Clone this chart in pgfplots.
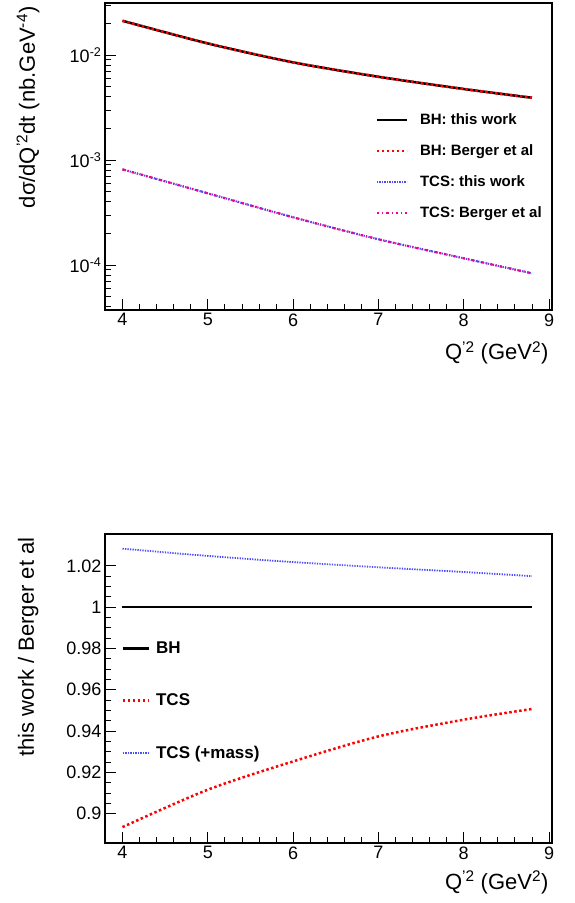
\documentclass[border=0pt]{standalone}
\usepackage{pgfplots}
\pgfplotsset{compat=1.18}
\usepackage{fontspec}
\setmainfont{Liberation Sans}
\definecolor{rootblue}{rgb}{0.3,0.3,1}

\pgfplotstableread{
x y
4.0 0.0212
5.0 0.0129
6.0 0.00852
7.0 0.00621
8.0 0.00475
8.8 0.00392
}\bhdata
\pgfplotstableread{
x y
4.0 8.15e-4
5.0 4.82e-4
6.0 2.85e-4
7.0 1.76e-4
8.0 1.16e-4
8.8 8.34e-5
}\tcsdata
\pgfplotstableread{
x y
4.0 1.0
8.8 1.0
}\bhratio
\pgfplotstableread{
x y
4.0 0.8935
5.0 0.9116
6.0 0.9253
7.0 0.9374
8.0 0.9455
8.8 0.9507
}\tcsratio
\pgfplotstableread{
x y
4.0 1.0283
5.0 1.0248
6.0 1.0218
7.0 1.0193
8.0 1.0170
8.8 1.0150
}\massratio

\begin{document}
\begin{tikzpicture}[x=1pt,y=1pt]
\path[use as bounding box] (0,0) rectangle (574,-903);
\pgfplotsset{
  common/.style={
    scale only axis, width=447pt,
    xmin=3.795, xmax=9.035,
    xtick={4,5,6,7,8,9}, minor x tick num=4,
    xtick pos=left, ytick pos=left,
    tick align=inside,
    major tick length=11pt, minor tick length=6pt,
    /pgf/number format/assume math mode=true,
    tick label style={font=\fontsize{18}{21}\selectfont},
    label style={font=\fontsize{22}{26}\selectfont},
    axis line style={line width=1.2pt},
    every tick/.style={black, line width=0.8pt},
    legend image code/.code={\draw[##1] (0pt,0pt) -- (30pt,0pt);},
    legend cell align=left,
    xlabel={Q\textsuperscript{'2} (GeV\textsuperscript{2})},
    xlabel style={at={(axis description cs:1,-0.14)}, anchor=east},
  }
}
\begin{axis}[common,
  at={(105pt,-310pt)}, anchor=south west,
  height=307pt,
  ymode=log, ymin=3.73e-5, ymax=0.0313,
  ytick={1e-4,1e-3,1e-2},
  yticklabels={10\textsuperscript{-4},10\textsuperscript{-3},10\textsuperscript{-2}},
  minor ytick={4e-5,5e-5,6e-5,7e-5,8e-5,9e-5,2e-4,3e-4,4e-4,5e-4,6e-4,7e-4,8e-4,9e-4,2e-3,3e-3,4e-3,5e-3,6e-3,7e-3,8e-3,9e-3,2e-2,3e-2},
  ylabel={dσ/dQ\textsuperscript{'2}dt (nb.GeV\textsuperscript{-4})},
  ylabel style={at={(axis description cs:-0.172,1)}, anchor=east},
  legend style={at={(axis description cs:0.598,0.652)}, anchor=north west, draw=none, fill=none,
    font=\bfseries\fontsize{15}{18}\selectfont, row sep=14.5pt,
    /tikz/column 1/.style={column sep=10pt}},
]
\addplot[black, line width=2.5pt, smooth] table[x=x,y=y] {\bhdata};
\addlegendentry{BH: this work}
\addplot[red, line width=2.5pt, dash pattern=on 2.5pt off 2.5pt, smooth] table[x=x,y=y] {\bhdata};
\addlegendentry{BH: Berger et al}
\addplot[rootblue, line width=2pt, dash pattern=on 1.3pt off 1.2pt, smooth] table[x=x,y=y] {\tcsdata};
\addlegendentry{TCS: this work}
\addplot[magenta, line width=2.2pt, dash pattern=on 2.5pt off 3pt on 1pt off 3pt, smooth] table[x=x,y=y] {\tcsdata};
\addlegendentry{TCS: Berger et al}
\end{axis}

\begin{axis}[common,
  at={(105pt,-843pt)}, anchor=south west,
  height=309pt,
  ymin=0.8858, ymax=1.0354,
  ytick={0.9,0.92,0.94,0.96,0.98,1,1.02},
  yticklabels={0.9,0.92,0.94,0.96,0.98,1,1.02},
  minor y tick num=3,
  ylabel={this work / Berger et al},
  ylabel style={at={(axis description cs:-0.172,1)}, anchor=east},
  xlabel style={at={(axis description cs:1,-0.127)}, anchor=east},
  legend style={at={(axis description cs:0.03,0.665)}, anchor=north west, draw=none, fill=none,
    font=\bfseries\fontsize{17}{20}\selectfont, row sep=35pt,
    /tikz/column 1/.style={column sep=4pt}},
  legend image code/.code={\draw[#1] (0pt,0pt) -- (26pt,0pt);},
]
\addplot[black, line width=2.5pt] table[x=x,y=y] {\bhratio};
\addlegendentry{BH}
\addplot[red, line width=2.5pt, dash pattern=on 2.5pt off 2.5pt, smooth] table[x=x,y=y] {\tcsratio};
\addlegendentry{TCS}
\addplot[rootblue, line width=1.8pt, dash pattern=on 1.3pt off 1.2pt, smooth] table[x=x,y=y] {\massratio};
\addlegendentry{TCS (+mass)}
\end{axis}
\end{tikzpicture}
\end{document}
